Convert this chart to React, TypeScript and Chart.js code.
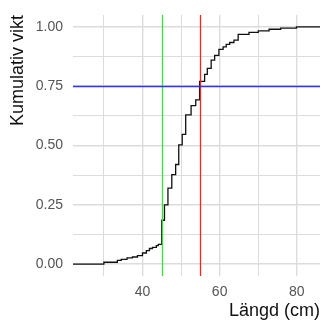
import React, { useEffect, useRef } from "react";
import { Chart, registerables } from "chart.js";

Chart.register(...registerables);

const lengths = [22, 30, 33.5, 34.5, 36, 37.4, 38.7, 40, 41, 41.8, 42.6, 43.6, 44.1, 45, 45.7, 46.6, 47.6, 48.6, 49.4, 50.3, 51.2, 52.6, 53.8, 54.8, 56.1, 56.8, 57.8, 58.7, 59.8, 60.9, 61.7, 62.6, 63.7, 64.8, 67.6, 70, 72.8, 75.8, 79.9, 86];
const cumWeight = [0, 0.008, 0.016, 0.02, 0.026, 0.03, 0.036, 0.047, 0.057, 0.066, 0.071, 0.078, 0.083, 0.185, 0.25, 0.32, 0.377, 0.42, 0.503, 0.547, 0.629, 0.668, 0.692, 0.77, 0.8, 0.825, 0.86, 0.88, 0.905, 0.916, 0.926, 0.934, 0.944, 0.968, 0.977, 0.983, 0.99, 0.995, 1.0, 1.0];

const xTicks = [30, 40, 50, 60, 70, 80];
const xLabeled = [40, 60, 80];
const yTicks = [0, 0.125, 0.25, 0.375, 0.5, 0.625, 0.75, 0.875, 1];
const yLabeled = [0, 0.25, 0.5, 0.75, 1];

const greenX = 45;
const redX = 55;
const blueY = 0.75;

const xTitle = "Längd (cm)";
const yTitle = "Kumulativ vikt";

const refLines = {
  id: "refLines",
  afterDatasetsDraw(chart: any) {
    const { ctx, chartArea, scales } = chart;
    const x = scales.x;
    const y = scales.y;
    ctx.save();
    ctx.lineWidth = 1.3;
    const gx = Math.round(x.getPixelForValue(greenX)) + 0.5;
    ctx.strokeStyle = "#33e533";
    ctx.beginPath();
    ctx.moveTo(gx, chartArea.top);
    ctx.lineTo(gx, chartArea.bottom);
    ctx.stroke();
    const rx = Math.round(x.getPixelForValue(redX)) + 0.5;
    ctx.strokeStyle = "#ff2020";
    ctx.beginPath();
    ctx.moveTo(rx, chartArea.top);
    ctx.lineTo(rx, chartArea.bottom);
    ctx.stroke();
    const by = Math.round(y.getPixelForValue(blueY)) + 0.5;
    ctx.strokeStyle = "#3030ff";
    ctx.beginPath();
    ctx.moveTo(chartArea.left, by);
    ctx.lineTo(chartArea.right, by);
    ctx.stroke();
    ctx.restore();
  },
};

export default function App() {
  const ref = useRef<HTMLCanvasElement>(null);
  useEffect(() => {
    const points = lengths.map((l, i) => ({ x: l, y: cumWeight[i] }));
    const chart = new Chart(ref.current as HTMLCanvasElement, {
      type: "line",
      data: {
        datasets: [
          {
            data: points,
            borderColor: "#111111",
            borderWidth: 1.3,
            pointRadius: 0,
            stepped: "before",
            fill: false,
          },
        ],
      },
      options: {
        animation: false,
        responsive: false,
        devicePixelRatio: 1,
        layout: { padding: { top: 15, right: 1, left: 0, bottom: 0 } },
        plugins: { legend: { display: false }, tooltip: { enabled: false } },
        scales: {
          x: {
            type: "linear",
            min: 22,
            max: 86,
            afterBuildTicks: (s: any) => {
              s.ticks = xTicks.map((v) => ({ value: v }));
            },
            afterFit: (s: any) => {
              s.height = 48;
              s.paddingLeft = 0;
              s.paddingRight = 0;
            },
            border: { display: false },
            grid: {
              drawTicks: false,
              color: "#dcdcdc",
              lineWidth: (c: any) => (xLabeled.includes(c.tick?.value) ? 1.4 : 1),
            },
            ticks: {
              padding: 8,
              autoSkip: false,
              maxRotation: 0,
              color: "#555555",
              font: { family: "Liberation Sans", size: 14 },
              callback: (v: any) => (xLabeled.includes(Number(v)) ? String(v) : ""),
            },
            title: {
              display: true,
              text: xTitle,
              align: "end",
              color: "#111111",
              font: { family: "Liberation Sans", size: 18 },
              padding: { top: 0, bottom: 2 },
            },
          },
          y: {
            type: "linear",
            min: -0.05,
            max: 1.05,
            afterBuildTicks: (s: any) => {
              s.ticks = yTicks.map((v) => ({ value: v }));
            },
            afterFit: (s: any) => {
              s.width = 73;
              s.paddingTop = 0;
              s.paddingBottom = 0;
            },
            border: { display: false },
            grid: {
              drawTicks: false,
              color: "#dcdcdc",
              lineWidth: (c: any) => (yLabeled.includes(c.tick?.value) ? 1.4 : 1),
            },
            ticks: {
              padding: 10,
              autoSkip: false,
              color: "#555555",
              font: { family: "Liberation Sans", size: 14 },
              callback: (v: any) => (yLabeled.includes(Number(v)) ? Number(v).toFixed(2) : ""),
            },
            title: {
              display: true,
              text: yTitle,
              align: "end",
              color: "#111111",
              font: { family: "Liberation Sans", size: 18 },
              padding: { top: 7, bottom: 0 },
            },
          },
        },
      },
      plugins: [refLines],
    } as any);
    return () => chart.destroy();
  }, []);
  return (
    <div style={{ position: "fixed", left: 0, top: 0, width: 321, height: 324, background: "#ffffff" }}>
      <canvas ref={ref} width={321} height={324} style={{ display: "block" }} />
    </div>
  );
}
